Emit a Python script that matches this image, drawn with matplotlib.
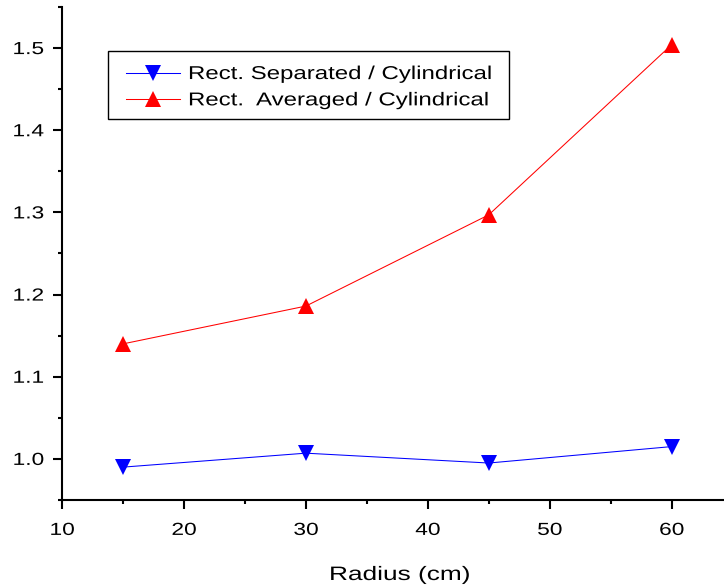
import matplotlib
matplotlib.use("Agg")
import matplotlib.pyplot as plt
from matplotlib.ticker import MultipleLocator
from matplotlib.patheffects import AbstractPathEffect
from matplotlib.transforms import Affine2D
from matplotlib.patches import Rectangle

plt.rcParams['font.family'] = ['Liberation Sans', 'DejaVu Sans']

radius = [15, 30, 45, 60]
separated = [0.990, 1.007, 0.995, 1.015]
averaged = [1.140, 1.186, 1.297, 1.504]
labels = ['Rect. Separated / Cylindrical', 'Rect.  Averaged / Cylindrical']


class Widen(AbstractPathEffect):
    """Draw text glyphs stretched horizontally about an anchor."""

    def __init__(self, sx=1.3, anchor='center'):
        super().__init__()
        self.sx = sx
        self.anchor = anchor

    def draw_path(self, renderer, gc, tpath, affine, rgbFace=None):
        xs = tpath.vertices[:, 0]
        if len(xs) == 0:
            return
        if self.anchor == 'left':
            cx = 0.0
        elif self.anchor == 'right':
            cx = xs.max()
        else:
            cx = 0.5 * (xs.min() + xs.max())
        t = Affine2D().translate(-cx, 0).scale(self.sx, 1).translate(cx, 0) + affine
        renderer.draw_path(gc, tpath, t, rgbFace)


W, H = 724, 587
fig = plt.figure(figsize=(W / 100, H / 100), dpi=100)
ax_l, ax_r, ax_t, ax_b = 62, 724, 7, 500
ax = fig.add_axes([ax_l / W, (H - ax_b) / H, (ax_r - ax_l) / W, (ax_b - ax_t) / H])

ax.plot(radius, separated, color='#0000ff', lw=0.75, marker='v', markersize=12,
        markeredgewidth=0, label=labels[0])
ax.plot(radius, averaged, color='#ff0000', lw=0.75, marker='^', markersize=12,
        markeredgewidth=0, label=labels[1])

ax.set_xlim(10, 64.3)
ax.set_ylim(0.95, 1.55)
ax.xaxis.set_major_locator(MultipleLocator(10))
ax.xaxis.set_minor_locator(MultipleLocator(5))
ax.yaxis.set_major_locator(MultipleLocator(0.1))
ax.yaxis.set_minor_locator(MultipleLocator(0.05))
ax.yaxis.set_major_formatter(plt.FuncFormatter(lambda v, p: f"{v:.1f}"))

for s in ('top', 'right'):
    ax.spines[s].set_visible(False)
for s in ('left', 'bottom'):
    ax.spines[s].set_linewidth(1.5)

ax.tick_params(which='major', direction='out', length=6.5, width=1.5, labelsize=12.6)
ax.tick_params(axis='y', which='major', pad=6.5)
ax.tick_params(axis='x', which='major', pad=10)
ax.tick_params(which='minor', direction='out', length=3.2, width=1.5)

for tk in ax.xaxis.get_major_ticks():
    tk.label1.set_path_effects([Widen(1.3, 'center')])
for tk in ax.yaxis.get_major_ticks():
    tk.label1.set_path_effects([Widen(1.3, 'right')])

xl = ax.set_xlabel('Radius (cm)', fontsize=14)
xl.set_path_effects([Widen(1.35, 'center')])


def px_to_axes(px, py):
    return (px - ax_l) / (ax_r - ax_l), 1 - (py - ax_t) / (ax_b - ax_t)


ax.xaxis.set_label_coords(*px_to_axes(400, 584))
xl.set_verticalalignment('bottom')

# legend frame
fx0, fy0 = px_to_axes(108, 119)
fx1, fy1 = px_to_axes(509, 51)
ax.add_patch(Rectangle((fx0, fy0), fx1 - fx0, fy1 - fy0, transform=ax.transAxes,
                       facecolor='white', edgecolor='black', lw=1.0, zorder=4))

lx, ly = px_to_axes(126, 66)
leg = ax.legend(loc='upper left', bbox_to_anchor=(lx, ly), bbox_transform=ax.transAxes,
                fontsize=13.4, frameon=False, handlelength=2.9, handletextpad=0.43,
                borderpad=0, labelspacing=0.5, borderaxespad=0)
leg.set_zorder(5)
for t in leg.get_texts():
    t.set_path_effects([Widen(1.29, 'left')])

fig.savefig('out.png', dpi=100)
